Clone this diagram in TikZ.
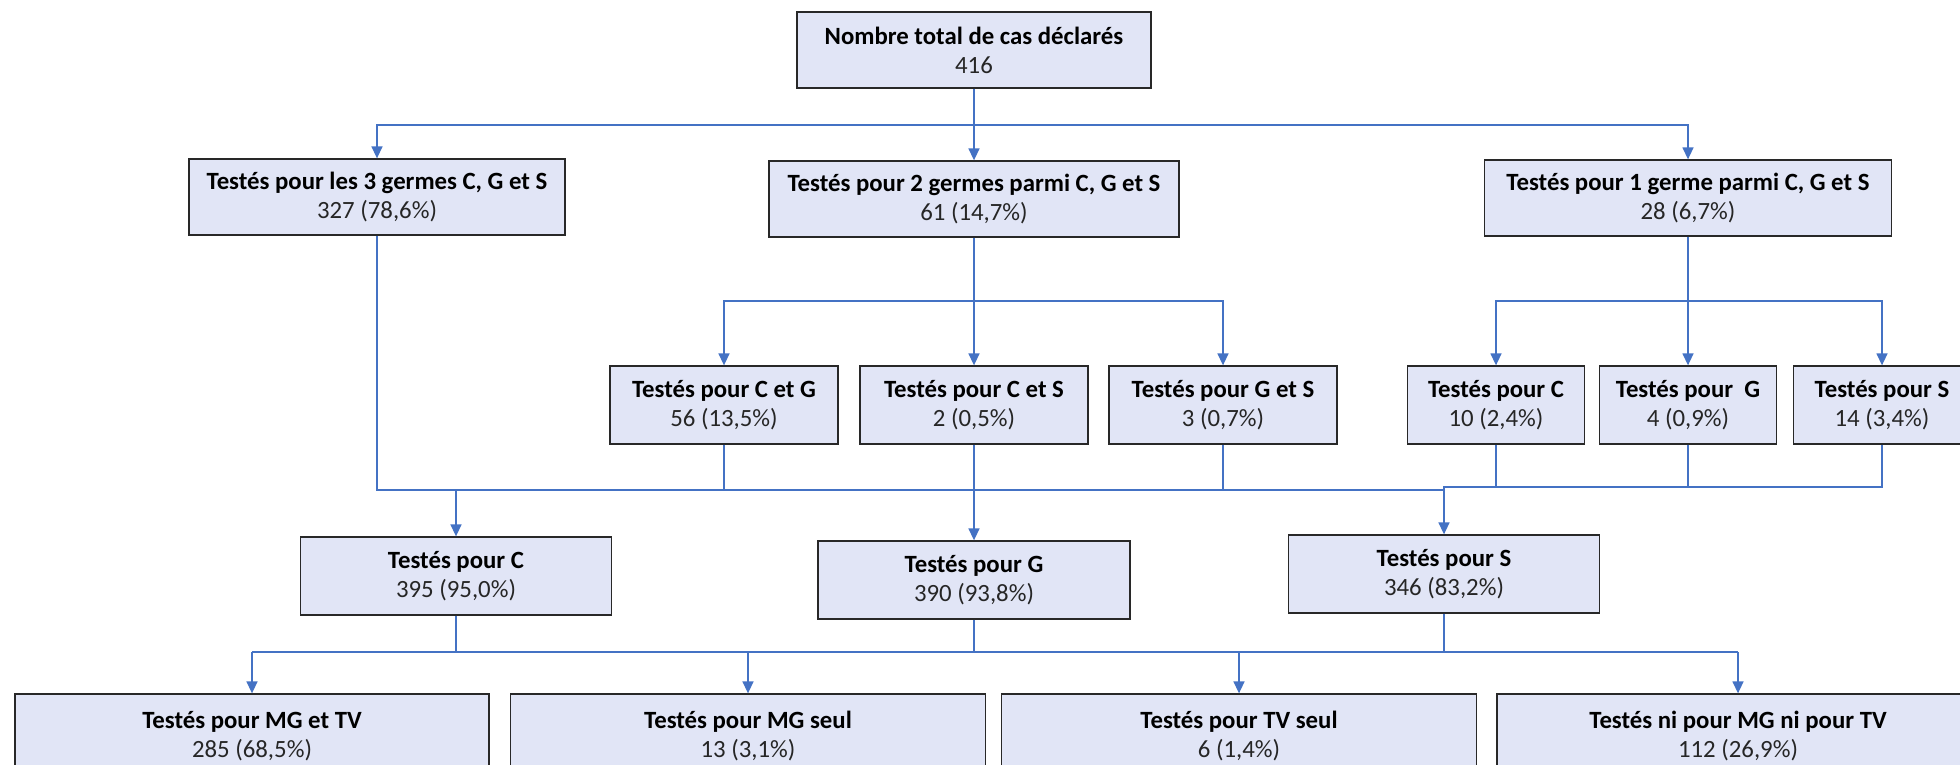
\documentclass[tikz,border=0pt]{standalone}
\usepackage{fontspec}
\setmainfont{Carlito}
\usetikzlibrary{arrows.meta}
\definecolor{boxfill}{RGB}{225,229,246}
\definecolor{boxline}{RGB}{40,40,40}
\definecolor{linkblue}{RGB}{68,114,196}
\definecolor{numtext}{RGB}{38,38,38}
\tikzset{
  box/.style={draw=boxline, line width=1.3pt, fill=boxfill, align=center,
    inner sep=0pt, text=black, font=\fontsize{24.8}{29}\selectfont},
  link/.style={draw=linkblue, line width=1.5pt},
  arr/.style={link, -{Triangle[width=11pt,length=12pt]}},
}
\newcommand{\casetext}[2]{\textbf{#1}\\{\color{numtext}#2}}
\begin{document}
\begin{tikzpicture}[x=1pt, y=-1pt]
\useasboundingbox (0,0) rectangle (1960,765);
\clip (0,0) rectangle (1960,765);

% level 1
\node[box, minimum width=354pt, minimum height=76pt] (tot) at (974,50)
  {\casetext{Nombre total de cas déclarés}{416}};

% level 2
\node[box, minimum width=376pt, minimum height=76pt] (A) at (377,197)
  {\casetext{Testés pour les 3 germes C, G et S}{327 (78,6\%)}};
\node[box, minimum width=410pt, minimum height=76pt] (B) at (974,199)
  {\casetext{Testés pour 2 germes parmi C, G et S}{61 (14,7\%)}};
\node[box, minimum width=407pt, minimum height=76pt] (C1) at (1688,198)
  {\casetext{Testés pour 1 germe parmi C, G et S}{28 (6,7\%)}};

% level 3
\node[box, minimum width=228pt, minimum height=78pt] (CG) at (724,405)
  {\casetext{Testés pour C et G}{56 (13,5\%)}};
\node[box, minimum width=228pt, minimum height=78pt] (CS) at (974,405)
  {\casetext{Testés pour C et S}{2 (0,5\%)}};
\node[box, minimum width=228pt, minimum height=78pt] (GS) at (1223,405)
  {\casetext{Testés pour G et S}{3 (0,7\%)}};
\node[box, minimum width=177pt, minimum height=78pt] (Cc) at (1496,405)
  {\casetext{Testés pour C}{10 (2,4\%)}};
\node[box, minimum width=177pt, minimum height=78pt] (Gg) at (1688,405)
  {\casetext{Testés pour\ \ G}{4 (0,9\%)}};
\node[box, minimum width=177pt, minimum height=78pt] (Ss) at (1882,405)
  {\casetext{Testés pour S}{14 (3,4\%)}};

% level 4
\node[box, minimum width=311pt, minimum height=78pt] (TC) at (456,576)
  {\casetext{Testés pour C}{395 (95,0\%)}};
\node[box, minimum width=312pt, minimum height=78pt] (TG) at (974,580)
  {\casetext{Testés pour G}{390 (93,8\%)}};
\node[box, minimum width=311pt, minimum height=78pt] (TS) at (1444,574)
  {\casetext{Testés pour S}{346 (83,2\%)}};

% level 5
\node[box, minimum width=474pt, minimum height=84pt] (M1) at (252,736)
  {\casetext{Testés pour MG et TV}{285 (68,5\%)}};
\node[box, minimum width=475pt, minimum height=84pt] (M2) at (748,736)
  {\casetext{Testés pour MG seul}{13 (3,1\%)}};
\node[box, minimum width=475pt, minimum height=84pt] (M3) at (1239,736)
  {\casetext{Testés pour TV seul}{6 (1,4\%)}};
\node[box, minimum width=482pt, minimum height=84pt] (M4) at (1738,736)
  {\casetext{Testés ni pour MG ni pour TV}{112 (26,9\%)}};

% bus heights
\coordinate (b1) at (0,125);
\coordinate (b2) at (0,301);
\coordinate (b3) at (0,490);
\coordinate (b3r) at (0,487);
\coordinate (b4) at (0,652);

% level 1 -> level 2
\draw[link] (tot.south) -- (tot.south |- b1);
\draw[arr] (tot.south |- b1) -| (A.north);
\draw[arr] (tot.south |- b1) -| (C1.north);
\draw[arr] (tot.south |- b1) -- (B.north);

% level 2 -> level 3
\draw[link] (B.south) -- (B.south |- b2);
\draw[arr] (B.south |- b2) -| (CG.north);
\draw[arr] (B.south |- b2) -- (CS.north);
\draw[arr] (B.south |- b2) -| (GS.north);
\draw[link] (C1.south) -- (C1.south |- b2);
\draw[arr] (C1.south |- b2) -| (Cc.north);
\draw[arr] (C1.south |- b2) -- (Gg.north);
\draw[arr] (C1.south |- b2) -| (Ss.north);

% level 3 -> level 4 (two merging buses)
\draw[link] (A.south) |- (TS.north |- b3) -- (TS.north |- b3r) -| (Ss.south);
\draw[link] (CG.south) -- (CG.south |- b3);
\draw[link] (CS.south) -- (CS.south |- b3);
\draw[link] (GS.south) -- (GS.south |- b3);
\draw[link] (Cc.south) -- (Cc.south |- b3r);
\draw[link] (Gg.south) -- (Gg.south |- b3r);
\draw[arr] (TC.north |- b3) -- (TC.north);
\draw[arr] (TG.north |- b3) -- (TG.north);
\draw[arr] (TS.north |- b3) -- (TS.north);

% level 4 -> level 5
\draw[link] (TC.south) -- (TC.south |- b4);
\draw[link] (TG.south) -- (TG.south |- b4);
\draw[link] (TS.south) -- (TS.south |- b4);
\draw[link] (M1.north |- b4) -- (M4.north |- b4);
\draw[arr] (M1.north |- b4) -- (M1.north);
\draw[arr] (M2.north |- b4) -- (M2.north);
\draw[arr] (M3.north |- b4) -- (M3.north);
\draw[arr] (M4.north |- b4) -- (M4.north);
\end{tikzpicture}
\end{document}
